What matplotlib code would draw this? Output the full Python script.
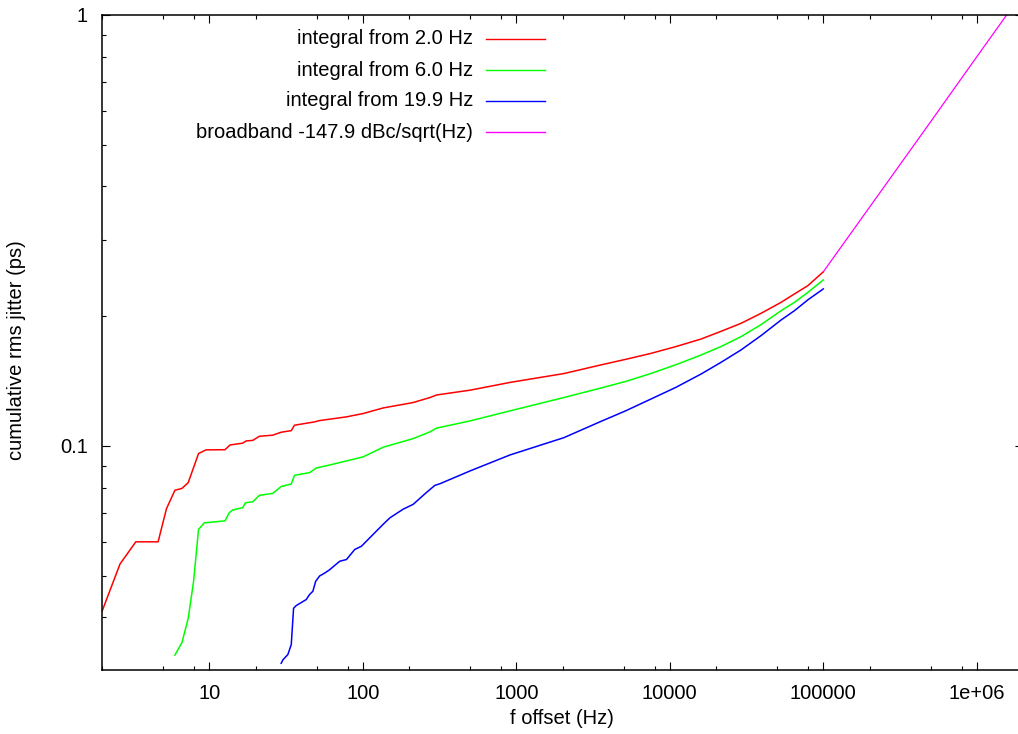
import numpy as np
import matplotlib
matplotlib.use('Agg')
import matplotlib.pyplot as plt
from matplotlib.ticker import FixedLocator, LogLocator, NullFormatter
from matplotlib.lines import Line2D

plt.rcParams['font.family'] = ['Liberation Sans', 'DejaVu Sans']

# data
red_f = [2.0, 2.62, 3.32, 4.64, 5.26, 5.97, 6.64, 7.29, 8.51, 9.5, 12.66, 13.65,
         16.5, 17.4, 19.2, 21.2, 25.9, 29.4, 34.2, 35.9, 48.5, 52.3, 78.3, 100.5,
         135.8, 213, 274, 303, 500, 910, 2040, 3540, 5150, 7510, 10940, 15960,
         21500, 29100, 39300, 53100, 64900, 79400, 100000]
red_j = [0.0413, 0.0532, 0.0599, 0.0599, 0.0715, 0.0789, 0.0797, 0.0822, 0.0960,
         0.0979, 0.0980, 0.1005, 0.1015, 0.1027, 0.1030, 0.1053, 0.1059, 0.1076,
         0.1085, 0.1117, 0.1137, 0.1145, 0.1168, 0.1189, 0.1225, 0.1261, 0.1295,
         0.1313, 0.1347, 0.1404, 0.1472, 0.1541, 0.1588, 0.1639, 0.1700, 0.1770,
         0.1844, 0.1925, 0.2031, 0.2154, 0.2253, 0.2355, 0.2535]

green_f = [5.97, 6.64, 7.29, 7.9, 8.51, 9.27, 12.66, 13.5, 14.2, 16.5, 17.2, 19.2,
           21.2, 25.9, 29.4, 34.2, 35.9, 45, 49.8, 60.8, 78.3, 100.5, 135.8, 213,
           274, 303, 500, 910, 2040, 3540, 5150, 7510, 10940, 15960, 21500, 29100,
           39300, 53100, 64900, 79400, 100000]
green_j = [0.0327, 0.0350, 0.0398, 0.0485, 0.0640, 0.0663, 0.0670, 0.0700, 0.0710,
           0.0719, 0.0738, 0.0742, 0.0768, 0.0776, 0.0805, 0.0816, 0.0855, 0.0867,
           0.0889, 0.0903, 0.0923, 0.0943, 0.0993, 0.1040, 0.1078, 0.1100, 0.1143,
           0.1206, 0.1295, 0.1362, 0.1411, 0.1472, 0.1543, 0.1625, 0.1700, 0.1793,
           0.1912, 0.2060, 0.2154, 0.2272, 0.2428]

blue_f = [29.4, 30.2, 32.5, 34.2, 35.4, 36.8, 42.8, 45, 47.3, 49.3, 52.3, 56.5,
          60.8, 65.6, 70.8, 78.3, 88.6, 97.9, 135.8, 150.2, 183, 213, 259, 295,
          318, 500, 910, 2040, 3540, 5150, 7510, 10940, 15960, 21500, 29100,
          39300, 53100, 64900, 79400, 100000]
blue_j = [0.0313, 0.0319, 0.0328, 0.0346, 0.0420, 0.0426, 0.0440, 0.0452, 0.0460,
          0.0485, 0.0499, 0.0507, 0.0516, 0.0528, 0.0540, 0.0545, 0.0575, 0.0585,
          0.0658, 0.0681, 0.0713, 0.0732, 0.0779, 0.0810, 0.0817, 0.0875, 0.0953,
          0.1045, 0.1139, 0.1206, 0.1284, 0.1367, 0.1468, 0.1562, 0.1670, 0.1803,
          0.1960, 0.2060, 0.2183, 0.2314]

bb_f = [1e5, 2e5, 5e5, 1e6, 2e6]
bb_j = [0.2535, 0.358, 0.565, 0.80, 1.13]

labels = ['integral from 2.0 Hz', 'integral from 6.0 Hz', 'integral from 19.9 Hz',
          'broadband -147.9 dBc/sqrt(Hz)']
colors = ['#ff0000', '#00ff00', '#0000ff', '#ff00ff']

xticks = [10, 100, 1000, 10000, 100000, 1e6]
xticklabels = ['10', '100', '1000', '10000', '100000', '1e+06']
yticks = [0.1, 1]
yticklabels = ['0.1', '1']

W, H = 1018, 734
fig = plt.figure(figsize=(W / 100, H / 100), dpi=100)
ax = fig.add_axes([102 / W, 1 - 670 / H, (1023 - 102) / W, (670 - 15) / H])

series = [(red_f, red_j), (green_f, green_j), (blue_f, blue_j), (bb_f, bb_j)]
widths = [1.1, 1.1, 1.1, 0.9]
for (f, j), c, w in zip(series, colors, widths):
    ax.plot(f, j, color=c, lw=w)

ax.set_xscale('log')
ax.set_yscale('log')
ax.set_xlim(2, 2e6)
ax.set_ylim(0.0302, 1)

ax.xaxis.set_major_locator(FixedLocator(xticks))
ax.set_xticklabels(xticklabels)
ax.xaxis.set_minor_locator(LogLocator(base=10, subs=[2, 5, 8], numticks=20))
ax.xaxis.set_minor_formatter(NullFormatter())
ax.yaxis.set_major_locator(FixedLocator(yticks))
ax.set_yticklabels(yticklabels)
ax.yaxis.set_minor_locator(LogLocator(base=10, subs=np.arange(2, 10), numticks=20))
ax.yaxis.set_minor_formatter(NullFormatter())

ax.tick_params(which='both', direction='in', top=True, right=True, width=0.8,
               labelsize=14.5, colors='black')
ax.tick_params(which='major', length=6, pad=10)
ax.tick_params(which='minor', length=3)
for s in ax.spines.values():
    s.set_linewidth(1.1)

fig.text(562 / W, 1 - 719 / H, 'f offset (Hz)', ha='center', va='center', fontsize=14.5)
fig.text(17 / W, 1 - 350 / H, 'cumulative rms jitter (ps)', ha='center', va='center',
         rotation=90, fontsize=14.5)

# gnuplot style key: text right aligned, sample line after it
rows = [39, 70, 101, 132]
for lab, c, r in zip(labels, colors, rows):
    y = 1 - r / H
    fig.text(473 / W, y, lab, ha='right', va='center', fontsize=14.5)
    fig.add_artist(Line2D([486 / W, 545 / W], [y, y], transform=fig.transFigure,
                          color=c, lw=1.0))

fig.savefig('out.png', dpi=100)
